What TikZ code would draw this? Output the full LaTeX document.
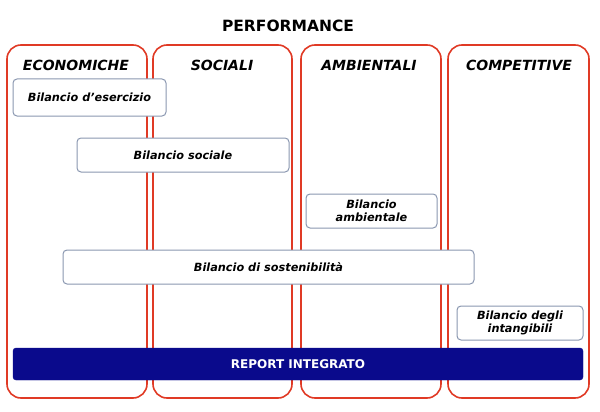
\documentclass[tikz,border=0pt]{standalone}
\usepackage{fontspec}
\setmainfont{DejaVu Sans}
\definecolor{colred}{HTML}{E03A25}
\definecolor{boxline}{HTML}{8A97B0}
\definecolor{navy}{HTML}{0A0A8C}
\begin{document}
\begin{tikzpicture}[x=1pt,y=-1pt,
 col/.style={draw=colred,line width=1.6pt,rounded corners=14pt},
 box/.style={draw=boxline,fill=white,line width=1pt,rounded corners=4pt,
   font=\fontsize{11.3}{13}\selectfont\bfseries\itshape,align=center,inner sep=0pt},
 hdr/.style={font=\fontsize{14}{16}\selectfont\bfseries\itshape}]
\useasboundingbox (0,0) rectangle (600,412);
\node[font=\fontsize{15.5}{17}\selectfont\bfseries] (t) at (288,26) {PERFORMANCE};
\draw[col] (7,45) rectangle (147,398);
\draw[col] (153,45) rectangle (292,398);
\draw[col] (301,45) rectangle (441,398);
\draw[col] (448,45) rectangle (589,398);
\node[hdr] (h1) at (76,65) {ECONOMICHE};
\node[hdr] (h2) at (222,65) {SOCIALI};
\node[hdr] (h3) at (369,65) {AMBIENTALI};
\node[hdr] (h4) at (519,65) {COMPETITIVE};
\node[box,minimum width=153pt,minimum height=37pt] (b1) at (89.5,97.5) {Bilancio d’esercizio};
\node[box,minimum width=212pt,minimum height=34pt] (b2) at (183,155) {Bilancio sociale};
\node[box,minimum width=131pt,minimum height=34pt] (b3) at (371.5,211) {Bilancio\\ambientale};
\node[box,minimum width=411pt,minimum height=34pt] (b4) at (268.5,267) {Bilancio di sostenibilità};
\node[box,minimum width=126pt,minimum height=34pt] (b5) at (520,323) {Bilancio degli\\intangibili};
\node[draw=navy,fill=navy,rounded corners=3pt,text=white,
  minimum width=570pt,minimum height=32pt,font=\fontsize{12}{14}\selectfont\bfseries] (r) at (298,364) {REPORT INTEGRATO};
\end{tikzpicture}
\end{document}
